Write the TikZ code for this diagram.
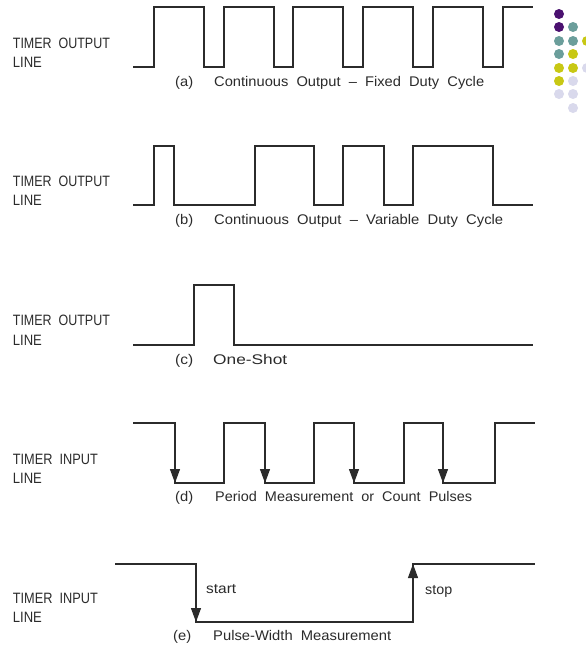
\documentclass[tikz,border=0pt]{standalone}
\usepackage{fontspec}
\setmainfont{Liberation Sans}[WordSpace=2]
\usepackage{graphicx}
\usetikzlibrary{arrows.meta}
\definecolor{ink}{HTML}{2B2B2B}
\definecolor{dpurple}{HTML}{4B1170}
\definecolor{dteal}{HTML}{6B9E9B}
\definecolor{dyellow}{HTML}{C8C814}
\definecolor{dlav}{HTML}{D9D9EC}
\newcommand\fitw[2]{\resizebox{#1}{\height}{#2}}
\tikzset{
  wave/.style={draw=ink, line width=1.1pt, line join=miter},
  edgearrow/.style={draw=ink, line width=1.1pt, -{Triangle[length=14pt,width=10pt]}},
  sidelab/.style={inner sep=0pt, anchor=base west, text=ink, font=\fontsize{15}{15}\selectfont},
  caplab/.style={inner sep=0pt, anchor=base west, text=ink, font=\fontsize{14}{14}\selectfont},
  dotc/.style={circle, inner sep=0pt, minimum size=10pt}
}
\begin{document}
\begin{tikzpicture}[x=1pt,y=-1pt]
\useasboundingbox (0,0) rectangle (586,648);
\fill[white] (0,0) rectangle (586,648);

% decorative dots
\node[dotc, fill=dpurple] (d11) at (559,14) {};
\node[dotc, fill=dpurple] (d21) at (559,27) {};
\node[dotc, fill=dteal]   (d22) at (573,27) {};
\node[dotc, fill=dteal]   (d31) at (559,41) {};
\node[dotc, fill=dteal]   (d32) at (573,41) {};
\node[dotc, fill=dyellow] (d33) at (587,41) {};
\node[dotc, fill=dteal]   (d41) at (559,54) {};
\node[dotc, fill=dyellow] (d42) at (573,54) {};
\node[dotc, fill=dyellow] (d51) at (559,68) {};
\node[dotc, fill=dyellow] (d52) at (573,68) {};
\node[dotc, fill=dlav]    (d53) at (587,68) {};
\node[dotc, fill=dyellow] (d61) at (559,81) {};
\node[dotc, fill=dlav]    (d62) at (573,81) {};
\node[dotc, fill=dlav]    (d71) at (559,94) {};
\node[dotc, fill=dlav]    (d72) at (573,94) {};
\node[dotc, fill=dlav]    (d82) at (573,108) {};

% (a) continuous, fixed duty cycle
\draw[wave] (133,67) -| (154,7) -| (204,67) -| (224,7) -| (274,67) -| (293,7)
  -| (343,67) -| (363,7) -| (413,67) -| (433,7) -| (483,67) -| (503,7) -- (533,7);
\node[sidelab] (a1) at (12.7,48.5) {\fitw{97pt}{TIMER OUTPUT}};
\node[sidelab] (a2) at (12.7,67.5) {\fitw{29pt}{LINE}};
\node[caplab] (ak) at (175,86.5) {\fitw{18pt}{(a)}};
\node[caplab] (at) at (214,86.5) {\fitw{270pt}{Continuous Output – Fixed Duty Cycle}};

% (b) continuous, variable duty cycle
\draw[wave] (133,205) -| (154,146) -| (174,205) -| (255,146) -| (314,205) -| (343,146)
  -| (384,205) -| (413,146) -| (493,205) -- (533,205);
\node[sidelab] (b1) at (12.7,186.5) {\fitw{97pt}{TIMER OUTPUT}};
\node[sidelab] (b2) at (12.7,205.5) {\fitw{29pt}{LINE}};
\node[caplab] (bk) at (175,224.5) {\fitw{18pt}{(b)}};
\node[caplab] (bt) at (214,224.5) {\fitw{289pt}{Continuous Output – Variable Duty Cycle}};

% (c) one-shot
\draw[wave] (133,345) -| (194,285) -| (234,345) -- (533,345);
\node[sidelab] (c1) at (12.7,325.5) {\fitw{97pt}{TIMER OUTPUT}};
\node[sidelab] (c2) at (12.7,345.5) {\fitw{29pt}{LINE}};
\node[caplab] (ck) at (175,364.5) {\fitw{18pt}{(c)}};
\node[caplab] (ct) at (213,364.5) {\fitw{74pt}{One-Shot}};

% (d) period measurement
\draw[wave] (133,423) -| (175,483) -| (224,423) -| (265,483) -| (314,423) -| (354,483)
  -| (404,423) -| (443,483) -| (495,423) -- (535,423);
\draw[edgearrow] (175,450) -- (175,483);
\draw[edgearrow] (265,450) -- (265,483);
\draw[edgearrow] (354,450) -- (354,483);
\draw[edgearrow] (443,450) -- (443,483);
\node[sidelab] (e1) at (12.7,464.5) {\fitw{85pt}{TIMER INPUT}};
\node[sidelab] (e2) at (12.7,483.5) {\fitw{29pt}{LINE}};
\node[caplab] (dk) at (175,501.5) {\fitw{18pt}{(d)}};
\node[caplab] (dt) at (215,501.5) {\fitw{257pt}{Period Measurement or Count Pulses}};

% (e) pulse-width measurement
\draw[wave] (115,564) -| (196,622) -| (413,564) -- (535,564);
\draw[edgearrow] (196,595) -- (196,622);
\draw[edgearrow] (413,590) -- (413,564);
\node[caplab] (st) at (206,593.5) {\fitw{30pt}{start}};
\node[caplab] (sp) at (425,594.5) {\fitw{27pt}{stop}};
\node[sidelab] (f1) at (12.7,603.5) {\fitw{85pt}{TIMER INPUT}};
\node[sidelab] (f2) at (12.7,622.5) {\fitw{29pt}{LINE}};
\node[caplab] (ek) at (173,640.5) {\fitw{18pt}{(e)}};
\node[caplab] (et) at (213,640.5) {\fitw{178pt}{Pulse-Width Measurement}};
\end{tikzpicture}
\end{document}
